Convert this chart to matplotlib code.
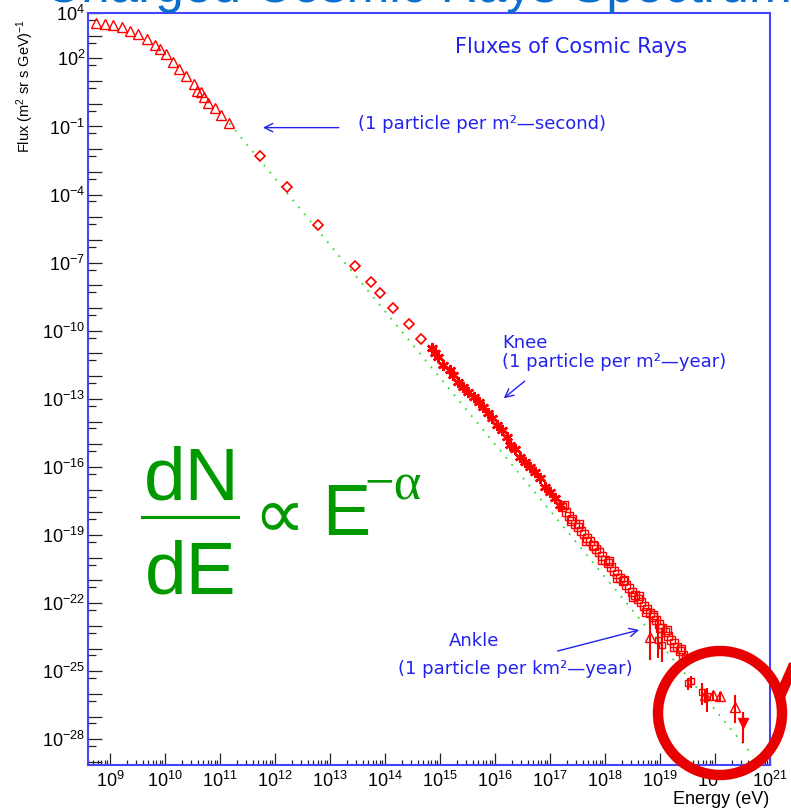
import numpy as np
import matplotlib
matplotlib.use('Agg')
import matplotlib.pyplot as plt
from matplotlib.patches import Ellipse
from matplotlib.lines import Line2D
from matplotlib.ticker import FixedLocator, FuncFormatter, NullFormatter

plt.rcParams['font.family'] = ['Liberation Sans', 'DejaVu Sans']
plt.rcParams['mathtext.fontset'] = 'custom'
plt.rcParams['mathtext.rm'] = 'Liberation Sans'
plt.rcParams['mathtext.it'] = 'Liberation Sans:italic'
plt.rcParams['mathtext.bf'] = 'Liberation Sans:bold'

W, H = 791, 809

# === data (log10 of energy in eV, log10 of flux in (m2 sr s GeV)^-1) ===
# low energy, open triangles
tri_logE = [8.75, 8.91, 9.06, 9.21, 9.36, 9.51, 9.67, 9.82, 9.91, 10.02, 10.14,
            10.26, 10.38, 10.53, 10.59, 10.65, 10.71, 10.79, 10.90, 11.02, 11.17]
tri_logF = [3.57, 3.52, 3.47, 3.37, 3.21, 3.06, 2.84, 2.59, 2.40, 2.18, 1.85,
            1.52, 1.22, 0.87, 0.58, 0.51, 0.29, 0.05, -0.17, -0.51, -0.86]
# open diamonds
dia_logE = [11.73, 12.22, 12.79, 13.45, 13.75, 13.90, 14.14, 14.43, 14.65]
dia_logF = [-2.30, -3.65, -5.34, -7.15, -7.86, -8.32, -8.98, -9.70, -10.36]
# asterisks around the knee
star_logE = [14.85, 14.91, 14.97, 15.06, 15.18, 15.24, 15.33, 15.42, 15.51, 15.61,
             15.70, 15.79, 15.88, 15.94, 16.03, 16.12, 16.21, 16.27, 16.36, 16.45,
             16.55, 16.64, 16.73, 16.82, 16.91, 17.00, 17.09, 17.18]
star_logF = [-10.77, -10.99, -11.14, -11.51, -11.73, -11.95, -12.24, -12.46, -12.68, -12.90,
             -13.12, -13.37, -13.61, -13.85, -14.15, -14.37, -14.67, -15.03, -15.22, -15.55,
             -15.79, -15.99, -16.21, -16.50, -16.87, -17.09, -17.38, -17.67]
# open squares, dense band up to the ankle
sq_logE = [17.22, 17.29, 17.35, 17.40, 17.46, 17.51, 17.56, 17.62, 17.67, 17.73,
           17.78, 17.84, 17.89, 17.95, 18.00, 18.06, 18.11, 18.16, 18.22, 18.27,
           18.33, 18.38, 18.44, 18.49, 18.55, 18.60, 18.66, 18.71, 18.76, 18.82,
           18.87, 18.93, 18.98, 19.04, 19.09, 19.15, 19.20, 19.26, 19.31, 19.36,
           19.42, 19.47]
sq_logF = [-17.76, -17.98, -18.16, -18.29, -18.51, -18.64, -18.82, -18.95, -19.13, -19.26,
           -19.44, -19.61, -19.74, -19.92, -20.10, -20.23, -20.41, -20.58, -20.71, -20.89,
           -21.02, -21.20, -21.33, -21.51, -21.64, -21.81, -21.95, -22.12, -22.26, -22.43,
           -22.61, -22.74, -22.92, -23.09, -23.27, -23.45, -23.62, -23.75, -23.93, -24.11,
           -24.29, -24.41]
sq2_logE = [17.25, 17.38, 17.52, 17.66, 17.80, 17.95, 18.08, 18.22, 18.35, 18.50,
            18.62, 18.75, 18.88, 19.00, 19.12, 19.25, 19.38]
sq2_logF = [-17.68, -18.40, -18.50, -19.28, -19.50, -20.12, -20.15, -20.88, -21.00, -21.72,
            -21.70, -22.38, -22.52, -23.10, -23.18, -23.95, -24.00]
# ankle region, open triangles with errors
atri_logE = [18.82, 19.82, 19.96, 20.09, 20.36]
atri_logF = [-23.49, -26.04, -26.04, -26.09, -26.57]
atri_lo = [-24.50, -26.40, -26.30, -26.35, -27.28]
atri_hi = [-22.65, -25.80, -25.85, -25.90, -26.04]
# ankle region, small points with errors
abar_logE = [18.96, 19.04, 19.51, 19.56, 19.76, 19.85]
abar_logF = [-23.62, -23.84, -25.50, -25.45, -25.90, -26.10]
abar_lo = [-24.41, -24.59, -25.82, -25.75, -26.48, -26.79]
abar_hi = [-22.61, -23.09, -25.30, -25.20, -25.52, -25.74]
# highest point, filled down triangle
top_logE = [20.51]
top_logF = [-27.28]
top_lo = [-28.16]
top_hi = [-26.79]
# E^-alpha guide line
fit_logE = [11.17, 20.70]
fit_logF = [-0.86, -28.75]

ylabels = [4, 2, -1, -4, -7, -10, -13, -16, -19, -22, -25, -28]


def P(a):
    return 10.0 ** np.asarray(a, dtype=float)


def fx(x):
    return x / W


def fy(y):
    return 1 - y / H


red = '#ff0000'
blue = '#2222ee'
green = '#009900'

fig = plt.figure(figsize=(W / 100, H / 100), dpi=100)
ax = fig.add_axes([fx(88), fy(765), 682 / W, 752 / H])
ax.set_xscale('log')
ax.set_yscale('log')

ax.plot(P(fit_logE), P(fit_logF), color='#33dd33', lw=1.3, ls=(0, (1, 4)), zorder=1)
ax.plot(P(tri_logE), P(tri_logF), '^', mfc='none', mec=red, ms=7, mew=1)
ax.plot(P(dia_logE), P(dia_logF), 'D', mfc='none', mec=red, ms=5.5, mew=1.2)
ax.plot(P(star_logE), P(star_logF), marker=(6, 2, 0), ls='none', color=red, ms=8, mew=1.8)
ax.plot(P(sq_logE), P(sq_logF), 's', mfc='none', mec=red, ms=6, mew=1)
ax.plot(P(sq2_logE), P(sq2_logF), 's', mfc='none', mec=red, ms=6, mew=1)

for lx, ly, lo, hi, fmt, fill in [(atri_logE, atri_logF, atri_lo, atri_hi, '^', 'none'),
                                  (abar_logE, abar_logF, abar_lo, abar_hi, 's', 'none'),
                                  (top_logE, top_logF, top_lo, top_hi, 'v', red)]:
    y = P(ly)
    ax.errorbar(P(lx), y, yerr=[y - P(lo), P(hi) - y], fmt=fmt, mfc=fill, mec=red,
                ecolor=red, elinewidth=1.5, capsize=0, ms=7 if fmt != 's' else 4, mew=1)

ax.set_xlim(10 ** 8.6, 1e21)
ax.set_ylim(10 ** -29.13, 1e4)

# ticks
ax.xaxis.set_major_locator(FixedLocator([10.0 ** k for k in range(9, 22)]))
ax.xaxis.set_minor_locator(FixedLocator([m * 10.0 ** k for k in range(8, 21) for m in range(2, 10)]))
ax.yaxis.set_major_locator(FixedLocator([10.0 ** k for k in range(-29, 5)]))
ax.yaxis.set_minor_locator(FixedLocator([5 * 10.0 ** k for k in range(-30, 4)]))
ax.xaxis.set_major_formatter(FuncFormatter(lambda v, p: '$10^{%d}$' % round(np.log10(v))))
ax.yaxis.set_major_formatter(FuncFormatter(
    lambda v, p: '$10^{%d}$' % round(np.log10(v)) if round(np.log10(v)) in ylabels else ''))
ax.xaxis.set_minor_formatter(NullFormatter())
ax.yaxis.set_minor_formatter(NullFormatter())
ax.tick_params(which='both', direction='in', color='#222222', width=0.9, labelsize=13)
ax.tick_params(axis='x', which='major', length=8.5, pad=4)
ax.tick_params(axis='x', which='minor', length=3.6)
ax.tick_params(axis='y', which='major', length=10, pad=2)
ax.tick_params(axis='y', which='minor', length=5.5)
for s in ax.spines.values():
    s.set_color('#4444ff')
    s.set_linewidth(1.5)

# annotations
tkw = dict(color=blue, family='DejaVu Sans', fontsize=13)
ax.text(10 ** 17.38, 10 ** 2.5, 'Fluxes of Cosmic Rays', ha='center', va='center',
        color=blue, family='DejaVu Sans', fontsize=15)
ax.text(10 ** 13.51, 10 ** -0.89, '(1 particle per m\u00b2\u2014second)', ha='left', va='center', **tkw)
ax.text(10 ** 16.13, 10 ** -10.54, 'Knee', ha='left', va='center', **tkw)
ax.text(10 ** 16.13, 10 ** -11.37, '(1 particle per m\u00b2\u2014year)', ha='left', va='center', **tkw)
ax.text(10 ** 15.16, 10 ** -23.67, 'Ankle', ha='left', va='center', **tkw)
ax.text(10 ** 14.24, 10 ** -24.90, '(1 particle per km\u00b2\u2014year)', ha='left', va='center', **tkw)
akw = dict(arrowstyle='->,head_length=0.6,head_width=0.3', color=blue, lw=1)
ax.annotate('', xy=(10 ** 11.73, 10 ** -1.05), xytext=(10 ** 13.21, 10 ** -1.05), arrowprops=akw)
ax.annotate('', xy=(10 ** 16.12, 10 ** -13.05), xytext=(10 ** 16.58, 10 ** -12.14), arrowprops=akw)
ax.annotate('', xy=(10 ** 18.67, 10 ** -23.15), xytext=(10 ** 17.09, 10 ** -24.14), arrowprops=akw)

# axis titles
fig.text(fx(25), fy(19), 'Flux (m$^2$ sr s GeV)$^{-1}$', rotation=90, ha='center', va='top', fontsize=10.5)
fig.text(fx(769), fy(800), 'Energy (eV)', ha='right', va='center', fontsize=13)

# slide title, mostly cut off at the top
fig.text(fx(44), fy(2), 'Charged Cosmic Rays Spectrum', fontsize=37, color='#0a6fcf',
         ha='left', va='baseline')

# power law formula
fig.text(fx(192), fy(500), 'dN', fontsize=54, color=green, ha='center', va='baseline')
fig.text(fx(191), fy(594), 'dE', fontsize=54, color=green, ha='center', va='baseline')
fig.add_artist(Line2D([fx(142), fx(238)], [fy(517), fy(517)], color=green, lw=2.2))
fig.text(fx(279), fy(519), '\u221d', fontsize=52, color=green, ha='center', va='center',
         family=['DejaVu Sans'])
fig.text(fx(322), fy(535), 'E', fontsize=52, color=green, ha='left', va='baseline')
fig.text(fx(364), fy(500), '\u2212\u03b1', fontsize=38, color=green, ha='left', va='baseline',
         family=['Liberation Serif', 'DejaVu Serif'])

# red highlight ring
fig.add_artist(Ellipse((fx(720), fy(713)), 124 / W, 124 / H, fill=False, ec='#e80000', lw=7.5))
fig.add_artist(Line2D([fx(781), fx(796)], [fy(694), fy(660)], color='#e80000', lw=7.5))

fig.savefig('out.png', dpi=100)
